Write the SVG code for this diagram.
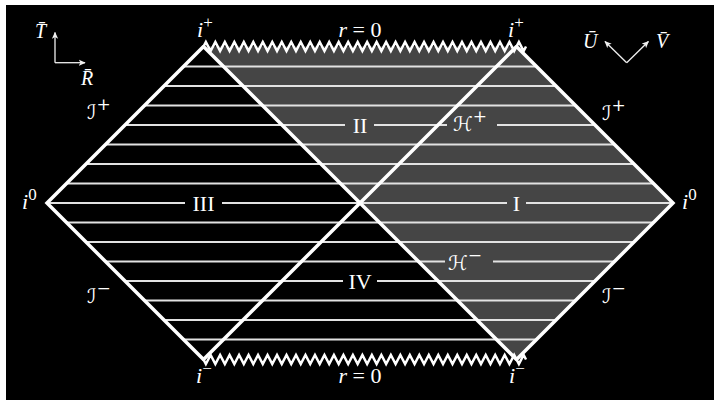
<svg xmlns="http://www.w3.org/2000/svg" width="720" height="407" viewBox="0 0 720 407">
<defs>
<style>
.bd{stroke:#fff;stroke-width:3.5;fill:none;stroke-linejoin:miter;stroke-linecap:round}
.hl{stroke:#e2e2e2;stroke-width:2;fill:none}
.zz{stroke:#fff;stroke-width:2.5;fill:none;stroke-linejoin:miter}
.ax{stroke:#f0f0f0;stroke-width:1.3;fill:none}
.t{fill:#fff;font-family:"Liberation Serif","DejaVu Serif",serif;font-size:22px}
.ax-t{font-size:20px}
.it{font-style:italic}
.rm{text-anchor:middle}
.sc{fill:#fff;font-family:"DejaVu Serif","DejaVu Sans",serif;font-size:20px;font-style:italic}
.sup{font-size:17px;font-style:normal}
</style>
<marker id="ah" viewBox="0 0 10 10" refX="9" refY="5" markerWidth="7" markerHeight="7" markerUnits="userSpaceOnUse" orient="auto">
<path d="M0,0.5 L10,5 L0,9.5 L2.5,5 Z" fill="#f0f0f0"/>
</marker>
</defs>
<rect width="720" height="407" fill="#fff"/>
<rect x="6" y="5" width="708" height="395" fill="#000"/>

<g id="regions">
<polygon points="203.5,46.5 516.5,46.5 673,203 516.5,359.5 360,203" fill="#454545"/>
</g>

<g id="lines">
<path class="hl" d="M183.5,66.5H536.5M164,86H556M144.5,105.5H575.5M125,125H345M374,125H447M497,125H595M105.5,144.5H614.5M86,164H634M66.5,183.5H653.5M47,203H185M222,203H507M526,203H673M66.5,222.5H653.5M86,242H634M105.5,261.5H445M493,261.5H614.5M125,281H343M377,281H595M144.5,300.5H575.5M164,320H556M183.5,339.5H536.5"/>
</g>

<g id="connectors">
<path class="bd" d="M203.5,46.5 L47,203 L203.5,359.5 M203.5,46.5 L516.5,359.5 M516.5,46.5 L203.5,359.5 M516.5,46.5 L673,203 L516.5,359.5"/>
<path class="zz" d="M203.5,46.5 l2.371,-4.5 l4.743,9 4.743,-9 4.743,9 4.743,-9 4.743,9 4.743,-9 4.743,9 4.743,-9 4.743,9 4.743,-9 4.743,9 4.743,-9 4.743,9 4.743,-9 4.743,9 4.743,-9 4.743,9 4.743,-9 4.743,9 4.743,-9 4.743,9 4.743,-9 4.743,9 4.743,-9 4.743,9 4.743,-9 4.743,9 4.743,-9 4.743,9 4.743,-9 4.743,9 4.743,-9 4.743,9 4.743,-9 4.743,9 4.743,-9 4.743,9 4.743,-9 4.743,9 4.743,-9 4.743,9 4.743,-9 4.743,9 4.743,-9 4.743,9 4.743,-9 4.743,9 4.743,-9 4.743,9 4.743,-9 4.743,9 4.743,-9 4.743,9 4.743,-9 4.743,9 4.743,-9 4.743,9 4.743,-9 4.743,9 4.743,-9 4.743,9 4.743,-9 4.743,9 4.743,-9 4.743,9 4.743,-9 l4.743,9 2.371,-4.5"/>
<path class="zz" d="M203.5,359.5 l2.371,4.5 l4.743,-9 4.743,9 4.743,-9 4.743,9 4.743,-9 4.743,9 4.743,-9 4.743,9 4.743,-9 4.743,9 4.743,-9 4.743,9 4.743,-9 4.743,9 4.743,-9 4.743,9 4.743,-9 4.743,9 4.743,-9 4.743,9 4.743,-9 4.743,9 4.743,-9 4.743,9 4.743,-9 4.743,9 4.743,-9 4.743,9 4.743,-9 4.743,9 4.743,-9 4.743,9 4.743,-9 4.743,9 4.743,-9 4.743,9 4.743,-9 4.743,9 4.743,-9 4.743,9 4.743,-9 4.743,9 4.743,-9 4.743,9 4.743,-9 4.743,9 4.743,-9 4.743,9 4.743,-9 4.743,9 4.743,-9 4.743,9 4.743,-9 4.743,9 4.743,-9 4.743,9 4.743,-9 4.743,9 4.743,-9 4.743,9 4.743,-9 4.743,9 4.743,-9 4.743,9 4.743,-9 4.743,9 l4.743,-9 2.371,4.5"/>
</g>

<g id="axes-TR">
<path class="ax" d="M55,62.7 V32.5" marker-end="url(#ah)"/>
<path class="ax" d="M55,62.7 H85" marker-end="url(#ah)"/>
<text class="t it ax-t" x="35" y="38">T̄</text>
<text class="t it ax-t" x="81" y="85">R̄</text>
</g>
<g id="axes-UV">
<path class="ax" d="M626.7,62.7 L605,41.5" marker-end="url(#ah)"/>
<path class="ax" d="M626.7,62.7 L648.4,41.5" marker-end="url(#ah)"/>
<text class="t it ax-t" x="583" y="48">Ū</text>
<text class="t it ax-t" x="656" y="48">V̄</text>
</g>

<g id="labels-infinity">
<text class="t it" x="197" y="37">i<tspan class="sup" dy="-9">+</tspan></text>
<text class="t it" x="508" y="37">i<tspan class="sup" dy="-9">+</tspan></text>
<text class="t it" x="196" y="383">i<tspan class="sup" dy="-9">−</tspan></text>
<text class="t it" x="509" y="383">i<tspan class="sup" dy="-9">−</tspan></text>
<text class="t it" x="22" y="208.5">i<tspan class="sup" dy="-9">0</tspan></text>
<text class="t it" x="682" y="208.5">i<tspan class="sup" dy="-9">0</tspan></text>
<text class="t rm" x="360" y="37"><tspan class="it">r</tspan> = 0</text>
<text class="t rm" x="360" y="383"><tspan class="it">r</tspan> = 0</text>
</g>

<g id="labels-scri">
<text class="sc" x="87" y="119">ℐ<tspan class="sup" dy="-9">+</tspan></text>
<text class="sc" x="87" y="303">ℐ<tspan class="sup" dy="-9">−</tspan></text>
<text class="sc" x="602" y="120">ℐ<tspan class="sup" dy="-9">+</tspan></text>
<text class="sc" x="602" y="303">ℐ<tspan class="sup" dy="-9">−</tspan></text>
<text class="sc" x="453" y="131">ℋ<tspan class="sup" dy="-9">+</tspan></text>
<text class="sc" x="448" y="270">ℋ<tspan class="sup" dy="-9">−</tspan></text>
</g>

<g id="region-I"><text class="t rm" x="516.5" y="210.5">I</text></g>
<g id="region-II"><text class="t rm" x="360" y="132.5">II</text></g>
<g id="region-III"><text class="t rm" x="203.5" y="210.5">III</text></g>
<g id="region-IV"><text class="t rm" x="360" y="288.5">IV</text></g>
</svg>
